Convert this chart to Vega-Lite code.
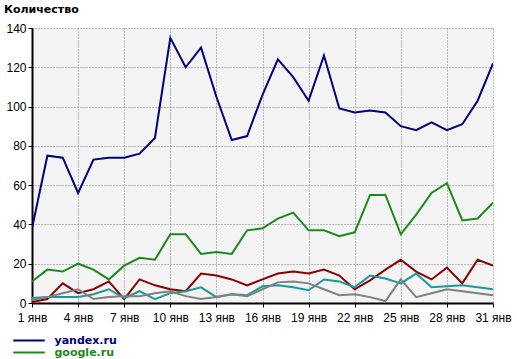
{
  "$schema": "https://vega.github.io/schema/vega-lite/v6.json",
  "autosize": "none",
  "width": 461,
  "height": 275,
  "padding": {"left": 32, "top": 28, "right": 24, "bottom": 56},
  "background": "#ffffff",
  "title": {"text": "Количество", "anchor": "start", "frame": "group", "dx": -28, "offset": 7, "font": "DejaVu Sans", "fontSize": 11, "fontWeight": "bold", "color": "#000000"},
  "config": {
    "view": {"fill": "#f4f4f4", "stroke": null},
    "axis": {"labelFont": "Liberation Sans", "labelFontSize": 12, "labelColor": "#000000", "domainColor": "#000000", "domainWidth": 2, "tickColor": "#000000", "tickSize": 4, "gridColor": "#808080", "gridDash": [1, 2], "gridWidth": 1, "title": null}
  },
  "data": {"values": [
    {"day": 1, "site": "yandex.ru", "value": 38}, {"day": 2, "site": "yandex.ru", "value": 75}, {"day": 3, "site": "yandex.ru", "value": 74}, {"day": 4, "site": "yandex.ru", "value": 56}, {"day": 5, "site": "yandex.ru", "value": 73}, {"day": 6, "site": "yandex.ru", "value": 74}, {"day": 7, "site": "yandex.ru", "value": 74}, {"day": 8, "site": "yandex.ru", "value": 76}, {"day": 9, "site": "yandex.ru", "value": 84}, {"day": 10, "site": "yandex.ru", "value": 135}, {"day": 11, "site": "yandex.ru", "value": 120}, {"day": 12, "site": "yandex.ru", "value": 130}, {"day": 13, "site": "yandex.ru", "value": 105}, {"day": 14, "site": "yandex.ru", "value": 83}, {"day": 15, "site": "yandex.ru", "value": 85}, {"day": 16, "site": "yandex.ru", "value": 106}, {"day": 17, "site": "yandex.ru", "value": 124}, {"day": 18, "site": "yandex.ru", "value": 115}, {"day": 19, "site": "yandex.ru", "value": 103}, {"day": 20, "site": "yandex.ru", "value": 126}, {"day": 21, "site": "yandex.ru", "value": 99}, {"day": 22, "site": "yandex.ru", "value": 97}, {"day": 23, "site": "yandex.ru", "value": 98}, {"day": 24, "site": "yandex.ru", "value": 97}, {"day": 25, "site": "yandex.ru", "value": 90}, {"day": 26, "site": "yandex.ru", "value": 88}, {"day": 27, "site": "yandex.ru", "value": 92}, {"day": 28, "site": "yandex.ru", "value": 88}, {"day": 29, "site": "yandex.ru", "value": 91}, {"day": 30, "site": "yandex.ru", "value": 103}, {"day": 31, "site": "yandex.ru", "value": 122},
    {"day": 1, "site": "google.ru", "value": 11}, {"day": 2, "site": "google.ru", "value": 17}, {"day": 3, "site": "google.ru", "value": 16}, {"day": 4, "site": "google.ru", "value": 20}, {"day": 5, "site": "google.ru", "value": 17}, {"day": 6, "site": "google.ru", "value": 12}, {"day": 7, "site": "google.ru", "value": 19}, {"day": 8, "site": "google.ru", "value": 23}, {"day": 9, "site": "google.ru", "value": 22}, {"day": 10, "site": "google.ru", "value": 35}, {"day": 11, "site": "google.ru", "value": 35}, {"day": 12, "site": "google.ru", "value": 25}, {"day": 13, "site": "google.ru", "value": 26}, {"day": 14, "site": "google.ru", "value": 25}, {"day": 15, "site": "google.ru", "value": 37}, {"day": 16, "site": "google.ru", "value": 38}, {"day": 17, "site": "google.ru", "value": 43}, {"day": 18, "site": "google.ru", "value": 46}, {"day": 19, "site": "google.ru", "value": 37}, {"day": 20, "site": "google.ru", "value": 37}, {"day": 21, "site": "google.ru", "value": 34}, {"day": 22, "site": "google.ru", "value": 36}, {"day": 23, "site": "google.ru", "value": 55}, {"day": 24, "site": "google.ru", "value": 55}, {"day": 25, "site": "google.ru", "value": 35}, {"day": 26, "site": "google.ru", "value": 45}, {"day": 27, "site": "google.ru", "value": 56}, {"day": 28, "site": "google.ru", "value": 61}, {"day": 29, "site": "google.ru", "value": 42}, {"day": 30, "site": "google.ru", "value": 43}, {"day": 31, "site": "google.ru", "value": 51},
    {"day": 1, "site": "go.mail.ru", "value": 0.5}, {"day": 2, "site": "go.mail.ru", "value": 2}, {"day": 3, "site": "go.mail.ru", "value": 10}, {"day": 4, "site": "go.mail.ru", "value": 5}, {"day": 5, "site": "go.mail.ru", "value": 7}, {"day": 6, "site": "go.mail.ru", "value": 11}, {"day": 7, "site": "go.mail.ru", "value": 2}, {"day": 8, "site": "go.mail.ru", "value": 12}, {"day": 9, "site": "go.mail.ru", "value": 9}, {"day": 10, "site": "go.mail.ru", "value": 7}, {"day": 11, "site": "go.mail.ru", "value": 6}, {"day": 12, "site": "go.mail.ru", "value": 15}, {"day": 13, "site": "go.mail.ru", "value": 14}, {"day": 14, "site": "go.mail.ru", "value": 12}, {"day": 15, "site": "go.mail.ru", "value": 9}, {"day": 16, "site": "go.mail.ru", "value": 12}, {"day": 17, "site": "go.mail.ru", "value": 15}, {"day": 18, "site": "go.mail.ru", "value": 16}, {"day": 19, "site": "go.mail.ru", "value": 15}, {"day": 20, "site": "go.mail.ru", "value": 17}, {"day": 21, "site": "go.mail.ru", "value": 14}, {"day": 22, "site": "go.mail.ru", "value": 7}, {"day": 23, "site": "go.mail.ru", "value": 11.5}, {"day": 24, "site": "go.mail.ru", "value": 17}, {"day": 25, "site": "go.mail.ru", "value": 22}, {"day": 26, "site": "go.mail.ru", "value": 16}, {"day": 27, "site": "go.mail.ru", "value": 12}, {"day": 28, "site": "go.mail.ru", "value": 18}, {"day": 29, "site": "go.mail.ru", "value": 10}, {"day": 30, "site": "go.mail.ru", "value": 22}, {"day": 31, "site": "go.mail.ru", "value": 19},
    {"day": 1, "site": "rambler.ru", "value": 2.5}, {"day": 2, "site": "rambler.ru", "value": 3}, {"day": 3, "site": "rambler.ru", "value": 3}, {"day": 4, "site": "rambler.ru", "value": 3}, {"day": 5, "site": "rambler.ru", "value": 4.5}, {"day": 6, "site": "rambler.ru", "value": 7}, {"day": 7, "site": "rambler.ru", "value": 2.5}, {"day": 8, "site": "rambler.ru", "value": 6}, {"day": 9, "site": "rambler.ru", "value": 2}, {"day": 10, "site": "rambler.ru", "value": 5}, {"day": 11, "site": "rambler.ru", "value": 6}, {"day": 12, "site": "rambler.ru", "value": 8}, {"day": 13, "site": "rambler.ru", "value": 3}, {"day": 14, "site": "rambler.ru", "value": 4.5}, {"day": 15, "site": "rambler.ru", "value": 4}, {"day": 16, "site": "rambler.ru", "value": 8.5}, {"day": 17, "site": "rambler.ru", "value": 9}, {"day": 18, "site": "rambler.ru", "value": 8}, {"day": 19, "site": "rambler.ru", "value": 6.5}, {"day": 20, "site": "rambler.ru", "value": 12}, {"day": 21, "site": "rambler.ru", "value": 11}, {"day": 22, "site": "rambler.ru", "value": 8}, {"day": 23, "site": "rambler.ru", "value": 14}, {"day": 24, "site": "rambler.ru", "value": 12.5}, {"day": 25, "site": "rambler.ru", "value": 10}, {"day": 26, "site": "rambler.ru", "value": 15}, {"day": 27, "site": "rambler.ru", "value": 8}, {"day": 28, "site": "rambler.ru", "value": 8.5}, {"day": 29, "site": "rambler.ru", "value": 9}, {"day": 30, "site": "rambler.ru", "value": 8}, {"day": 31, "site": "rambler.ru", "value": 7},
    {"day": 1, "site": "bing.com", "value": 1.5}, {"day": 2, "site": "bing.com", "value": 3}, {"day": 3, "site": "bing.com", "value": 5}, {"day": 4, "site": "bing.com", "value": 7}, {"day": 5, "site": "bing.com", "value": 2}, {"day": 6, "site": "bing.com", "value": 3}, {"day": 7, "site": "bing.com", "value": 3.5}, {"day": 8, "site": "bing.com", "value": 3.5}, {"day": 9, "site": "bing.com", "value": 5}, {"day": 10, "site": "bing.com", "value": 6}, {"day": 11, "site": "bing.com", "value": 3.5}, {"day": 12, "site": "bing.com", "value": 2}, {"day": 13, "site": "bing.com", "value": 3}, {"day": 14, "site": "bing.com", "value": 4.5}, {"day": 15, "site": "bing.com", "value": 3.5}, {"day": 16, "site": "bing.com", "value": 7}, {"day": 17, "site": "bing.com", "value": 10.5}, {"day": 18, "site": "bing.com", "value": 11}, {"day": 19, "site": "bing.com", "value": 10}, {"day": 20, "site": "bing.com", "value": 7}, {"day": 21, "site": "bing.com", "value": 4}, {"day": 22, "site": "bing.com", "value": 4.5}, {"day": 23, "site": "bing.com", "value": 3}, {"day": 24, "site": "bing.com", "value": 1}, {"day": 25, "site": "bing.com", "value": 12}, {"day": 26, "site": "bing.com", "value": 3}, {"day": 27, "site": "bing.com", "value": 5}, {"day": 28, "site": "bing.com", "value": 7}, {"day": 29, "site": "bing.com", "value": 6}, {"day": 30, "site": "bing.com", "value": 5}, {"day": 31, "site": "bing.com", "value": 4}
  ]},
  "mark": {"type": "line", "strokeWidth": 2, "clip": true},
  "encoding": {
    "x": {"field": "day", "type": "quantitative", "scale": {"domain": [1, 31], "nice": false, "zero": false},
      "axis": {"values": [1, 4, 7, 10, 13, 16, 19, 22, 25, 28, 31], "labelExpr": "datum.value + ' янв'", "labelPadding": 5, "labelFlush": false}},
    "y": {"field": "value", "type": "quantitative", "scale": {"domain": [0, 140], "nice": false},
      "axis": {"values": [0, 20, 40, 60, 80, 100, 120, 140], "labelPadding": 2}},
    "color": {"field": "site", "type": "nominal",
      "scale": {"domain": ["yandex.ru", "google.ru", "go.mail.ru", "rambler.ru", "bing.com"], "range": ["#000080", "#1a8a1a", "#8b0000", "#1a9999", "#808080"]},
      "legend": {"orient": "none", "legendX": -9.5, "legendY": 306, "title": null, "symbolType": "M-3,0H3", "symbolSize": 110, "symbolStrokeWidth": 2, "symbolFillColor": "transparent", "labelFont": "DejaVu Sans", "labelFontSize": 11, "labelFontWeight": "bold", "rowPadding": 0, "labelOffset": 19, "padding": 0,
        "encode": {"labels": {"update": {"fill": {"scale": "color", "field": "value"}}}}}
    },
    "order": {"field": "day"}
  }
}
